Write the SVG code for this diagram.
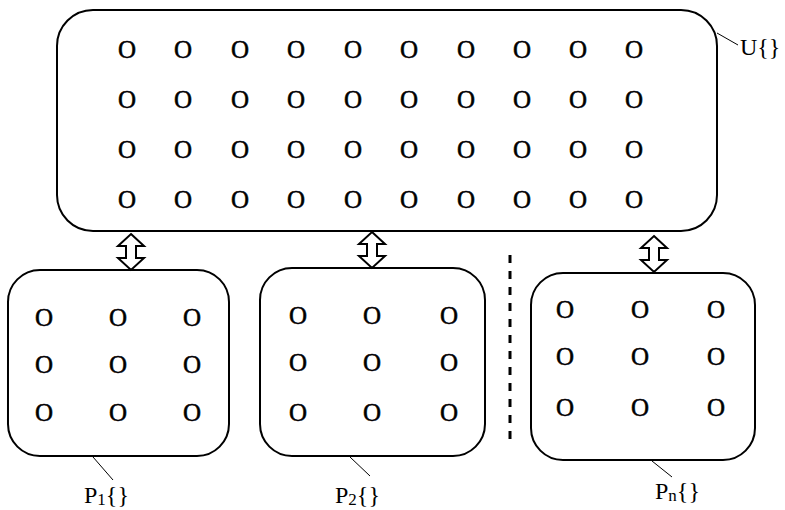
<svg xmlns="http://www.w3.org/2000/svg" width="785" height="510" viewBox="0 0 785 510">
<defs>
<style>
.box{fill:#fff;stroke:#000;stroke-width:2}
.o{font-family:"Liberation Serif",serif;font-size:25px;text-anchor:middle;fill:#000;stroke:#000;stroke-width:0.5}
.lbl{font-family:"Liberation Serif",serif;font-size:24px;fill:#000}
.sub{font-size:17px}
.lead{stroke:#000;stroke-width:1;fill:none}
.arr{fill:#fff;stroke:#000;stroke-width:2;stroke-linejoin:miter}
</style>
<path id="dbl" class="arr" d="M0,-18 L13,-6 L5,-6 L5,6 L13,6 L0,18 L-13,6 L-5,6 L-5,-6 L-13,-6 Z"/>
</defs>
<rect width="785" height="510" fill="#fff"/>
<g id="U">
<rect class="box" x="57" y="10" width="660" height="221" rx="36" ry="36"/>
<g class="o">
<text x="127" y="58">O</text><text x="183" y="58">O</text><text x="240" y="58">O</text><text x="296" y="58">O</text><text x="353" y="58">O</text><text x="409" y="58">O</text><text x="466" y="58">O</text><text x="522" y="58">O</text><text x="578" y="58">O</text><text x="634" y="58">O</text>
<text x="127" y="108">O</text><text x="183" y="108">O</text><text x="240" y="108">O</text><text x="296" y="108">O</text><text x="353" y="108">O</text><text x="409" y="108">O</text><text x="466" y="108">O</text><text x="522" y="108">O</text><text x="578" y="108">O</text><text x="634" y="108">O</text>
<text x="127" y="158">O</text><text x="183" y="158">O</text><text x="240" y="158">O</text><text x="296" y="158">O</text><text x="353" y="158">O</text><text x="409" y="158">O</text><text x="466" y="158">O</text><text x="522" y="158">O</text><text x="578" y="158">O</text><text x="634" y="158">O</text>
<text x="127" y="208">O</text><text x="183" y="208">O</text><text x="240" y="208">O</text><text x="296" y="208">O</text><text x="353" y="208">O</text><text x="409" y="208">O</text><text x="466" y="208">O</text><text x="522" y="208">O</text><text x="578" y="208">O</text><text x="634" y="208">O</text>
</g>
<line class="lead" x1="717" y1="33" x2="738" y2="45"/>
<text class="lbl" x="740" y="55">U{}</text>
</g>
<g id="P1">
<rect class="box" x="8" y="270" width="221" height="186" rx="32" ry="32"/>
<g class="o">
<text x="44" y="326">O</text><text x="118" y="326">O</text><text x="192" y="326">O</text>
<text x="44" y="373">O</text><text x="118" y="373">O</text><text x="192" y="373">O</text>
<text x="44" y="421">O</text><text x="118" y="421">O</text><text x="192" y="421">O</text>
</g>
<line class="lead" x1="93" y1="457" x2="113" y2="480"/>
<text class="lbl" x="84" y="503">P<tspan class="sub" dy="2">1</tspan><tspan dy="-2">{}</tspan></text>
</g>
<g id="P2">
<rect class="box" x="260" y="268" width="225" height="188" rx="32" ry="32"/>
<g class="o">
<text x="298" y="324">O</text><text x="372" y="324">O</text><text x="449" y="324">O</text>
<text x="298" y="371">O</text><text x="372" y="371">O</text><text x="449" y="371">O</text>
<text x="298" y="421">O</text><text x="372" y="421">O</text><text x="449" y="421">O</text>
</g>
<line class="lead" x1="350" y1="457" x2="370" y2="476"/>
<text class="lbl" x="335" y="503">P<tspan class="sub" dy="2">2</tspan><tspan dy="-2">{}</tspan></text>
</g>
<g id="Pn">
<rect class="box" x="531" y="273" width="224" height="187" rx="32" ry="32"/>
<g class="o">
<text x="565" y="318">O</text><text x="640" y="318">O</text><text x="716" y="318">O</text>
<text x="565" y="365">O</text><text x="640" y="365">O</text><text x="716" y="365">O</text>
<text x="565" y="416">O</text><text x="640" y="416">O</text><text x="716" y="416">O</text>
</g>
<line class="lead" x1="652" y1="461" x2="672" y2="477"/>
<text class="lbl" x="655" y="499">P<tspan class="sub" dy="2">n</tspan><tspan dy="-2">{}</tspan></text>
</g>
<g id="connectors">
<use href="#dbl" x="131" y="252"/>
<use href="#dbl" x="372" y="250"/>
<use href="#dbl" x="654" y="254"/>
<line x1="510" y1="255" x2="510" y2="442" stroke="#000" stroke-width="3" stroke-dasharray="8,8"/>
</g>
</svg>
